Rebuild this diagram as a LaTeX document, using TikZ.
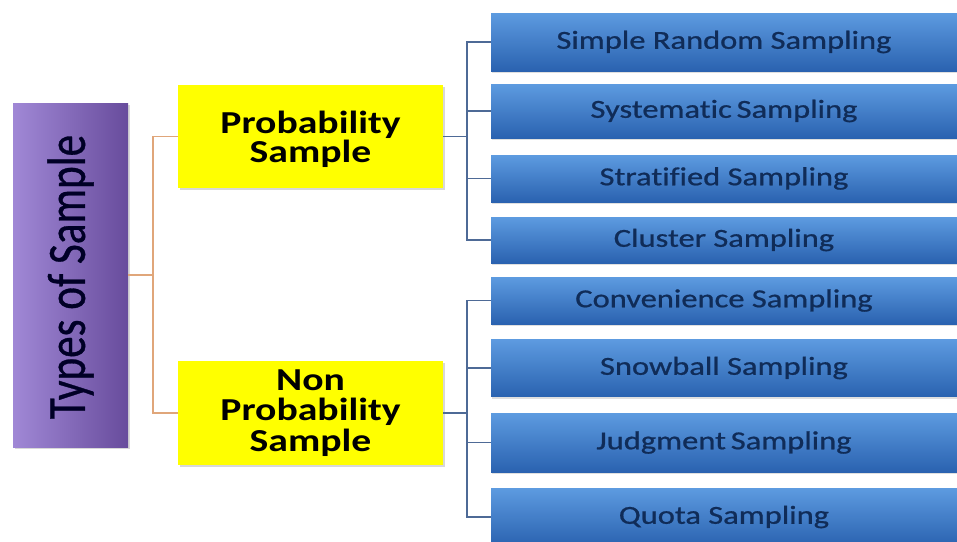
\documentclass[tikz,border=0pt]{standalone}
\usepackage{fontspec}
\setmainfont[Ligatures=NoCommon]{Carlito}
\newfontfamily\medfont[Ligatures=NoCommon,FakeBold=0.7]{Carlito}
\usetikzlibrary{shadows}
\definecolor{bluetop}{HTML}{5D9BE0}
\definecolor{bluebot}{HTML}{2A62B0}
\definecolor{navytxt}{HTML}{102C58}
\definecolor{purpL}{HTML}{A088D6}
\definecolor{purpM}{HTML}{7A5DB6}
\definecolor{purpR}{HTML}{684C9C}
\definecolor{yel}{HTML}{FFFF00}
\definecolor{oline}{HTML}{E0A67A}
\definecolor{bline}{HTML}{4E6A96}
\newcommand{\ys}[1]{\scalebox{1.24}[1]{#1}}
\newcommand{\bs}[1]{\scalebox{1.25}[1]{#1}}
\tikzset{
  bluebox/.style={draw=none, top color=bluetop, bottom color=bluebot, minimum width=466pt,
    inner sep=0pt, font=\medfont\fontsize{26}{28}\selectfont, text=navytxt,
    drop shadow={shadow xshift=1pt, shadow yshift=-2pt, opacity=0.25}},
  yelbox/.style={fill=yel, draw=none, minimum width=265pt, inner sep=0pt,
    drop shadow={shadow xshift=2pt, shadow yshift=-2pt, opacity=0.3}},
  yeltext/.style={inner sep=0pt, align=center, font=\fontsize{32}{29}\selectfont\bfseries, text=black},
  purpbox/.style={left color=purpL, middle color=purpM, right color=purpR, draw=none, minimum width=115pt,
    minimum height=344pt, inner sep=0pt, drop shadow={shadow xshift=2pt, shadow yshift=-2pt, opacity=0.3}},
  oconn/.style={draw=oline, line width=1.4pt},
  bconn/.style={draw=bline, line width=1.4pt}
}
\begin{document}
\begin{tikzpicture}[x=1pt,y=-1pt]
\useasboundingbox (0,0) rectangle (957,541);
\clip (0,0) rectangle (957,541);
\fill[white] (0,0) rectangle (957,541);
% purple
\node[purpbox] (purp) at (70.5,275) {};
\node[rotate=90, font=\medfont\fontsize{54}{56}\selectfont, text=black!85!blue, inner sep=0pt] (ptxt) at (70.5,277) {\scalebox{0.8}[1]{Types of Sample}};
% yellow
\node[yelbox, minimum height=103pt] (y1) at (310.5,136.5) {};
\node[yeltext] (y1t) at (310.5,139.5) {\ys{Probability}\\\ys{Sample}};
\node[yelbox, minimum height=104pt] (y2) at (310.5,413) {};
\node[yeltext, font=\fontsize{32}{30.5}\selectfont\bfseries] (y2t) at (310.5,413) {\ys{Non}\\\ys{Probability}\\\ys{Sample}};
% blue
\node[bluebox, minimum height=58pt] (b1) at (724,42) {\bs{Simple Random Sampling}};
\node[bluebox, minimum height=54pt] (b2) at (724,111) {\bs{Systematic\kern-2pt\ Sampling}};
\node[bluebox, minimum height=47pt] (b3) at (724,178.5) {\bs{Stratified Sampling}};
\node[bluebox, minimum height=46pt] (b4) at (724,240) {\bs{Cluster Sampling}};
\node[bluebox, minimum height=47pt] (b5) at (724,300.5) {\bs{Convenience Sampling}};
\node[bluebox, minimum height=57pt] (b6) at (724,368) {\bs{Snowball Sampling}};
\node[bluebox, minimum height=59pt] (b7) at (724,442.5) {\bs{Judgment\kern-2pt\ Sampling}};
\node[bluebox, minimum height=58pt] (b8) at (724,517) {\bs{Quota Sampling}};
% connectors
\coordinate (oj) at (153,275);
\draw[oconn] (purp.east) -- (oj);
\draw[oconn] (oj) |- (y1.west);
\draw[oconn] (oj) |- (y2.west);
\coordinate (bj1) at (467,136.5);
\coordinate (bj2) at (467,413);
\draw[bconn] (y1.east) -- (bj1);
\draw[bconn] (y2.east) -- (bj2);
\foreach \b in {b1,b2,b3,b4}{\draw[bconn] (bj1) |- (\b.west);}
\foreach \b in {b5,b6,b7,b8}{\draw[bconn] (bj2) |- (\b.west);}
\end{tikzpicture}
\end{document}
